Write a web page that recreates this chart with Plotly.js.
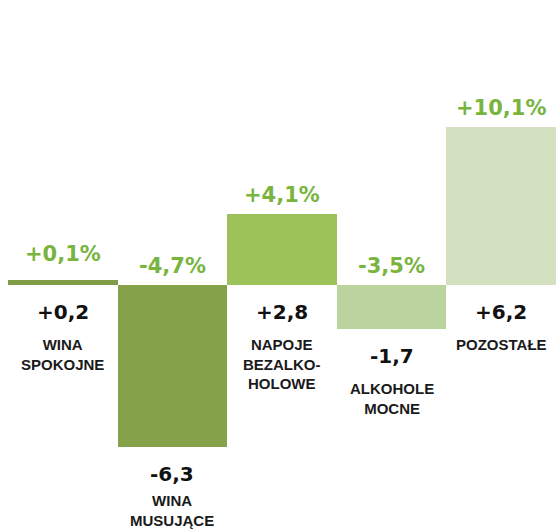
<!DOCTYPE html>
<html>
<head>
<meta charset="utf-8">
<script src="https://cdn.plot.ly/plotly-3.0.1.min.js"></script>
<style>html,body{margin:0;padding:0;background:#fff;}#chart{width:556px;height:530px;}</style>
</head>
<body>
<div id="chart"></div>
<script>
// Data
const categories = ["WINA SPOKOJNE", "WINA MUSUJĄCE", "NAPOJE BEZALKOHOLOWE", "ALKOHOLE MOCNE", "POZOSTAŁE"];
const labelLines = [["WINA", "SPOKOJNE"], ["WINA", "MUSUJĄCE"], ["NAPOJE", "BEZALKO-", "HOLOWE"], ["ALKOHOLE", "MOCNE"], ["POZOSTAŁE"]];
const values = [0.2, -6.3, 2.8, -1.7, 6.2];
const valueLabels = ["+0,2", "-6,3", "+2,8", "-1,7", "+6,2"];
const percentLabels = ["+0,1%", "-4,7%", "+4,1%", "-3,5%", "+10,1%"];
const barColors = ["#7f9c47", "#85a24a", "#9dc25a", "#bbd39c", "#d3e1c1"];

const NUM_FONT = "DejaVu Sans, sans-serif";
const LBL_FONT = "Liberation Sans, Arial, sans-serif";
const GREEN = "#78b43e";
const H = 530;
const yRange = [-9.55, 11.15];
const pxPerUnit = H / (yRange[1] - yRange[0]);
const LBL_SIZE = 15;

const annotations = [];
categories.forEach((c, i) => {
  const v = values[i];
  const top = Math.max(v, 0);
  const bottom = Math.min(v, 0);
  annotations.push({
    x: c, y: top, xref: "x", yref: "y", text: "<b>" + percentLabels[i] + "</b>", showarrow: false,
    yanchor: "bottom", yshift: i === 0 ? 12 : 5,
    font: {family: NUM_FONT, size: 21, color: GREEN}
  });
  annotations.push({
    x: c, y: bottom, xref: "x", yref: "y", text: "<b>" + valueLabels[i] + "</b>", showarrow: false,
    yanchor: "top", yshift: -13,
    font: {family: NUM_FONT, size: 20, color: "#111111"}
  });
  // keep the category label inside the picture
  let shift = -49;
  const endPx = (yRange[1] - bottom) * pxPerUnit;
  const blockBottom = endPx - shift + labelLines[i].length * LBL_SIZE * 1.3 + 4;
  if (blockBottom > H + 3) shift += blockBottom - (H + 3);
  annotations.push({
    x: c, y: bottom, xref: "x", yref: "y", text: "<b>" + labelLines[i].join("<br>") + "</b>", showarrow: false,
    yanchor: "top", yshift: shift, align: "center",
    font: {family: LBL_FONT, size: LBL_SIZE, color: "#1a1a1a"}
  });
});

const trace = {
  type: "bar",
  x: categories,
  y: values,
  marker: {color: barColors, line: {width: 0}},
  hoverinfo: "none"
};

const layout = {
  width: 556, height: H,
  margin: {l: 8, r: 0, t: 0, b: 0},
  paper_bgcolor: "#ffffff", plot_bgcolor: "#ffffff",
  bargap: 0,
  showlegend: false,
  xaxis: {visible: false, range: [-0.5, 4.5]},
  yaxis: {visible: false, range: yRange, zeroline: false},
  annotations: annotations
};

Plotly.newPlot("chart", [trace], layout, {displayModeBar: false, staticPlot: true});
</script>
</body>
</html>
